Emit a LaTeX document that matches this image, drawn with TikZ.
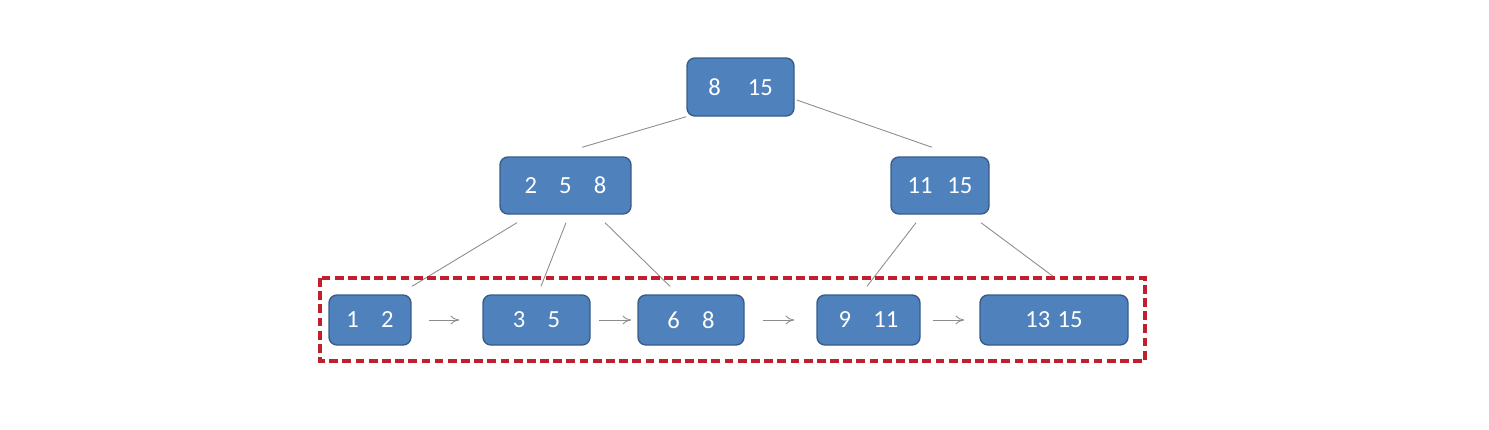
\documentclass[tikz,border=0pt]{standalone}
\usepackage{fontspec}
\setmainfont{Carlito}
\usetikzlibrary{arrows.meta}
\definecolor{nodeblue}{HTML}{4F81BD}
\definecolor{nodeedge}{HTML}{385D8A}
\definecolor{linegray}{HTML}{8C8C8C}
\definecolor{dashred}{HTML}{C0202C}
\begin{document}
\begin{tikzpicture}[scale=1.0,>={To[length=5pt,width=5pt]},
  key/.style={draw=nodeedge,line width=0.8pt,fill=nodeblue,rounded corners=0.16cm,
    text=white,font=\fontsize{14}{16}\selectfont,inner sep=0pt},
  edge/.style={linegray,line width=0.5pt},
  link/.style={->,linegray,line width=0.5pt}]
  \useasboundingbox (0,0) rectangle (29.78,-8.6);
  % 根节点与中间节点
  \node[key,minimum width=2.14cm,minimum height=1.16cm] (root) at (14.81,-1.74) {8\hspace{1.1em}15};
  \node[key,minimum width=2.62cm,minimum height=1.14cm] (mid1) at (11.31,-3.71) {2\hspace{0.9em}5\hspace{0.9em}8};
  \node[key,minimum width=1.96cm,minimum height=1.14cm] (mid2) at (18.80,-3.71) {11\hspace{0.6em}15};

  % 叶子节点
  \node[key,minimum width=1.64cm,minimum height=1cm] (leaf1) at (7.40,-6.40) {1\hspace{0.9em}2};
  \node[key,minimum width=2.14cm,minimum height=1cm] (leaf2) at (10.73,-6.40) {3\hspace{0.9em}5};
  \node[key,minimum width=2.12cm,minimum height=1cm] (leaf3) at (13.82,-6.40) {6\hspace{0.9em}8};
  \node[key,minimum width=2.06cm,minimum height=1cm] (leaf4) at (17.37,-6.40) {9\hspace{0.9em}11};
  \node[key,minimum width=2.96cm,minimum height=1cm] (leaf5) at (21.08,-6.40) {13\hspace{0.3em}15};

  % 父子连线
  \draw[edge] (root.south west) -- ([shift={(0.33,0.18)}]mid1.north);
  \draw[edge] ([shift={(0.04,-0.26)}]root.east) -- ([shift={(-0.16,0.18)}]mid2.north);
  \draw[edge] ([shift={(-0.97,-0.16)}]mid1.south) -- ([shift={(0.84,0.16)}]leaf1.north);
  \draw[edge] ([shift={(0.01,-0.16)}]mid1.south) -- ([shift={(0.09,0.16)}]leaf2.north);
  \draw[edge] ([shift={(0.79,-0.16)}]mid1.south) -- ([shift={(-0.42,0.16)}]leaf3.north);
  \draw[edge] ([shift={(-0.48,-0.16)}]mid2.south) -- ([shift={(-0.03,0.16)}]leaf4.north);
  \draw[edge] ([shift={(0.82,-0.16)}]mid2.south) -- ([shift={(-0.02,0.36)}]leaf5.north);

  % 叶子之间的指针
  \draw[link,shorten <=0.34cm,shorten >=0.46cm] (leaf1.east) -- (leaf2.west);
  \draw[link,shorten <=0.16cm,shorten >=0.12cm] (leaf2.east) -- (leaf3.west);
  \draw[link,shorten <=0.36cm,shorten >=0.44cm] (leaf3.east) -- (leaf4.west);
  \draw[link,shorten <=0.24cm,shorten >=0.30cm] (leaf4.east) -- (leaf5.west);

  % 红色虚线框
  \draw[dashred,line width=2pt,dash pattern=on 5pt off 2.5pt]
    (6.40,-5.56) rectangle (22.90,-7.22);
\end{tikzpicture}
\end{document}
